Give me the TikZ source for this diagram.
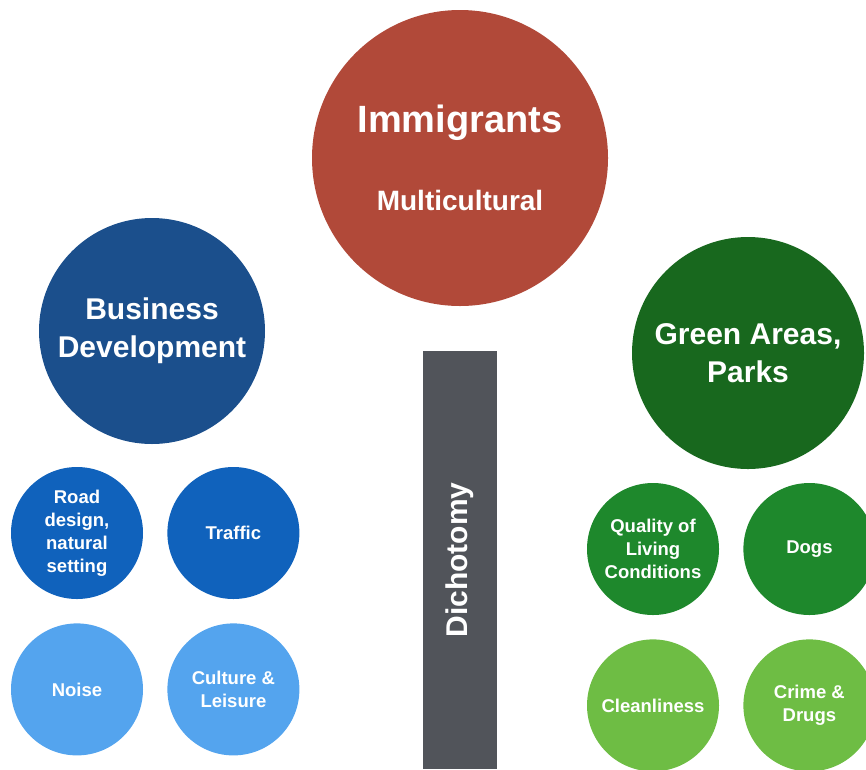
\documentclass[tikz,border=0pt]{standalone}
\usepackage{fontspec}
\setmainfont{Liberation Sans}
\usepackage{tikz}
\usetikzlibrary{positioning}
\definecolor{immRed}{RGB}{177,73,57}
\definecolor{bizBlue}{RGB}{27,79,140}
\definecolor{midBlue}{RGB}{16,98,188}
\definecolor{lightBlue}{RGB}{84,164,238}
\definecolor{parkGreen}{RGB}{24,104,30}
\definecolor{midGreen}{RGB}{30,136,44}
\definecolor{lightGreen}{RGB}{110,189,68}
\definecolor{barGray}{RGB}{81,84,90}

\begin{document}
\begin{tikzpicture}[
    x=1pt, y=-1pt,
    node distance=24pt,
    topic/.style={circle, minimum size=232pt, inner sep=0pt, align=center, text=white, font=\bfseries\fontsize{30}{38}\selectfont},
    issue/.style={circle, minimum size=132pt, inner sep=0pt, align=center, text=white, font=\bfseries\fontsize{18.5}{23}\selectfont},
    bar/.style={rectangle, fill=barGray, rotate=90, minimum width=418pt, minimum height=74pt, inner sep=0pt, text=white, font=\bfseries\fontsize{30}{36}\selectfont}
]
\useasboundingbox (0,0) rectangle (866,769);

% Topics
\node[topic, fill=immRed, minimum size=296pt] (imm) at (460,158) {{\fontsize{38}{44}\selectfont Immigrants}\\[40pt]{\fontsize{28}{32}\selectfont Multicultural}};
\node[topic, fill=bizBlue, minimum size=226pt] (biz) at (152,331) {Business\\Development};
\node[topic, fill=parkGreen] (park) at (748,353) {Green Areas,\\Parks};

% Dichotomy bar
\node[bar] (dich) at (460,560) {Dichotomy};

% Business issues
\node[issue, fill=midBlue] (road) at (77,533) {Road\\design,\\natural\\setting};
\node[issue, fill=midBlue, right=of road] (traffic) {Traffic};
\node[issue, fill=lightBlue, below=of road] (noise) {Noise};
\node[issue, fill=lightBlue, right=of noise] (culture) {Culture \&\\Leisure};

% Park issues
\node[issue, fill=midGreen] (living) at (653,549) {Quality of\\Living\\Conditions};
\node[issue, fill=midGreen, right=of living] (dogs) {Dogs};
\node[issue, fill=lightGreen, below=of living] (clean) {Cleanliness};
\node[issue, fill=lightGreen, right=of clean] (crime) {Crime \&\\Drugs};
\end{tikzpicture}
\end{document}
